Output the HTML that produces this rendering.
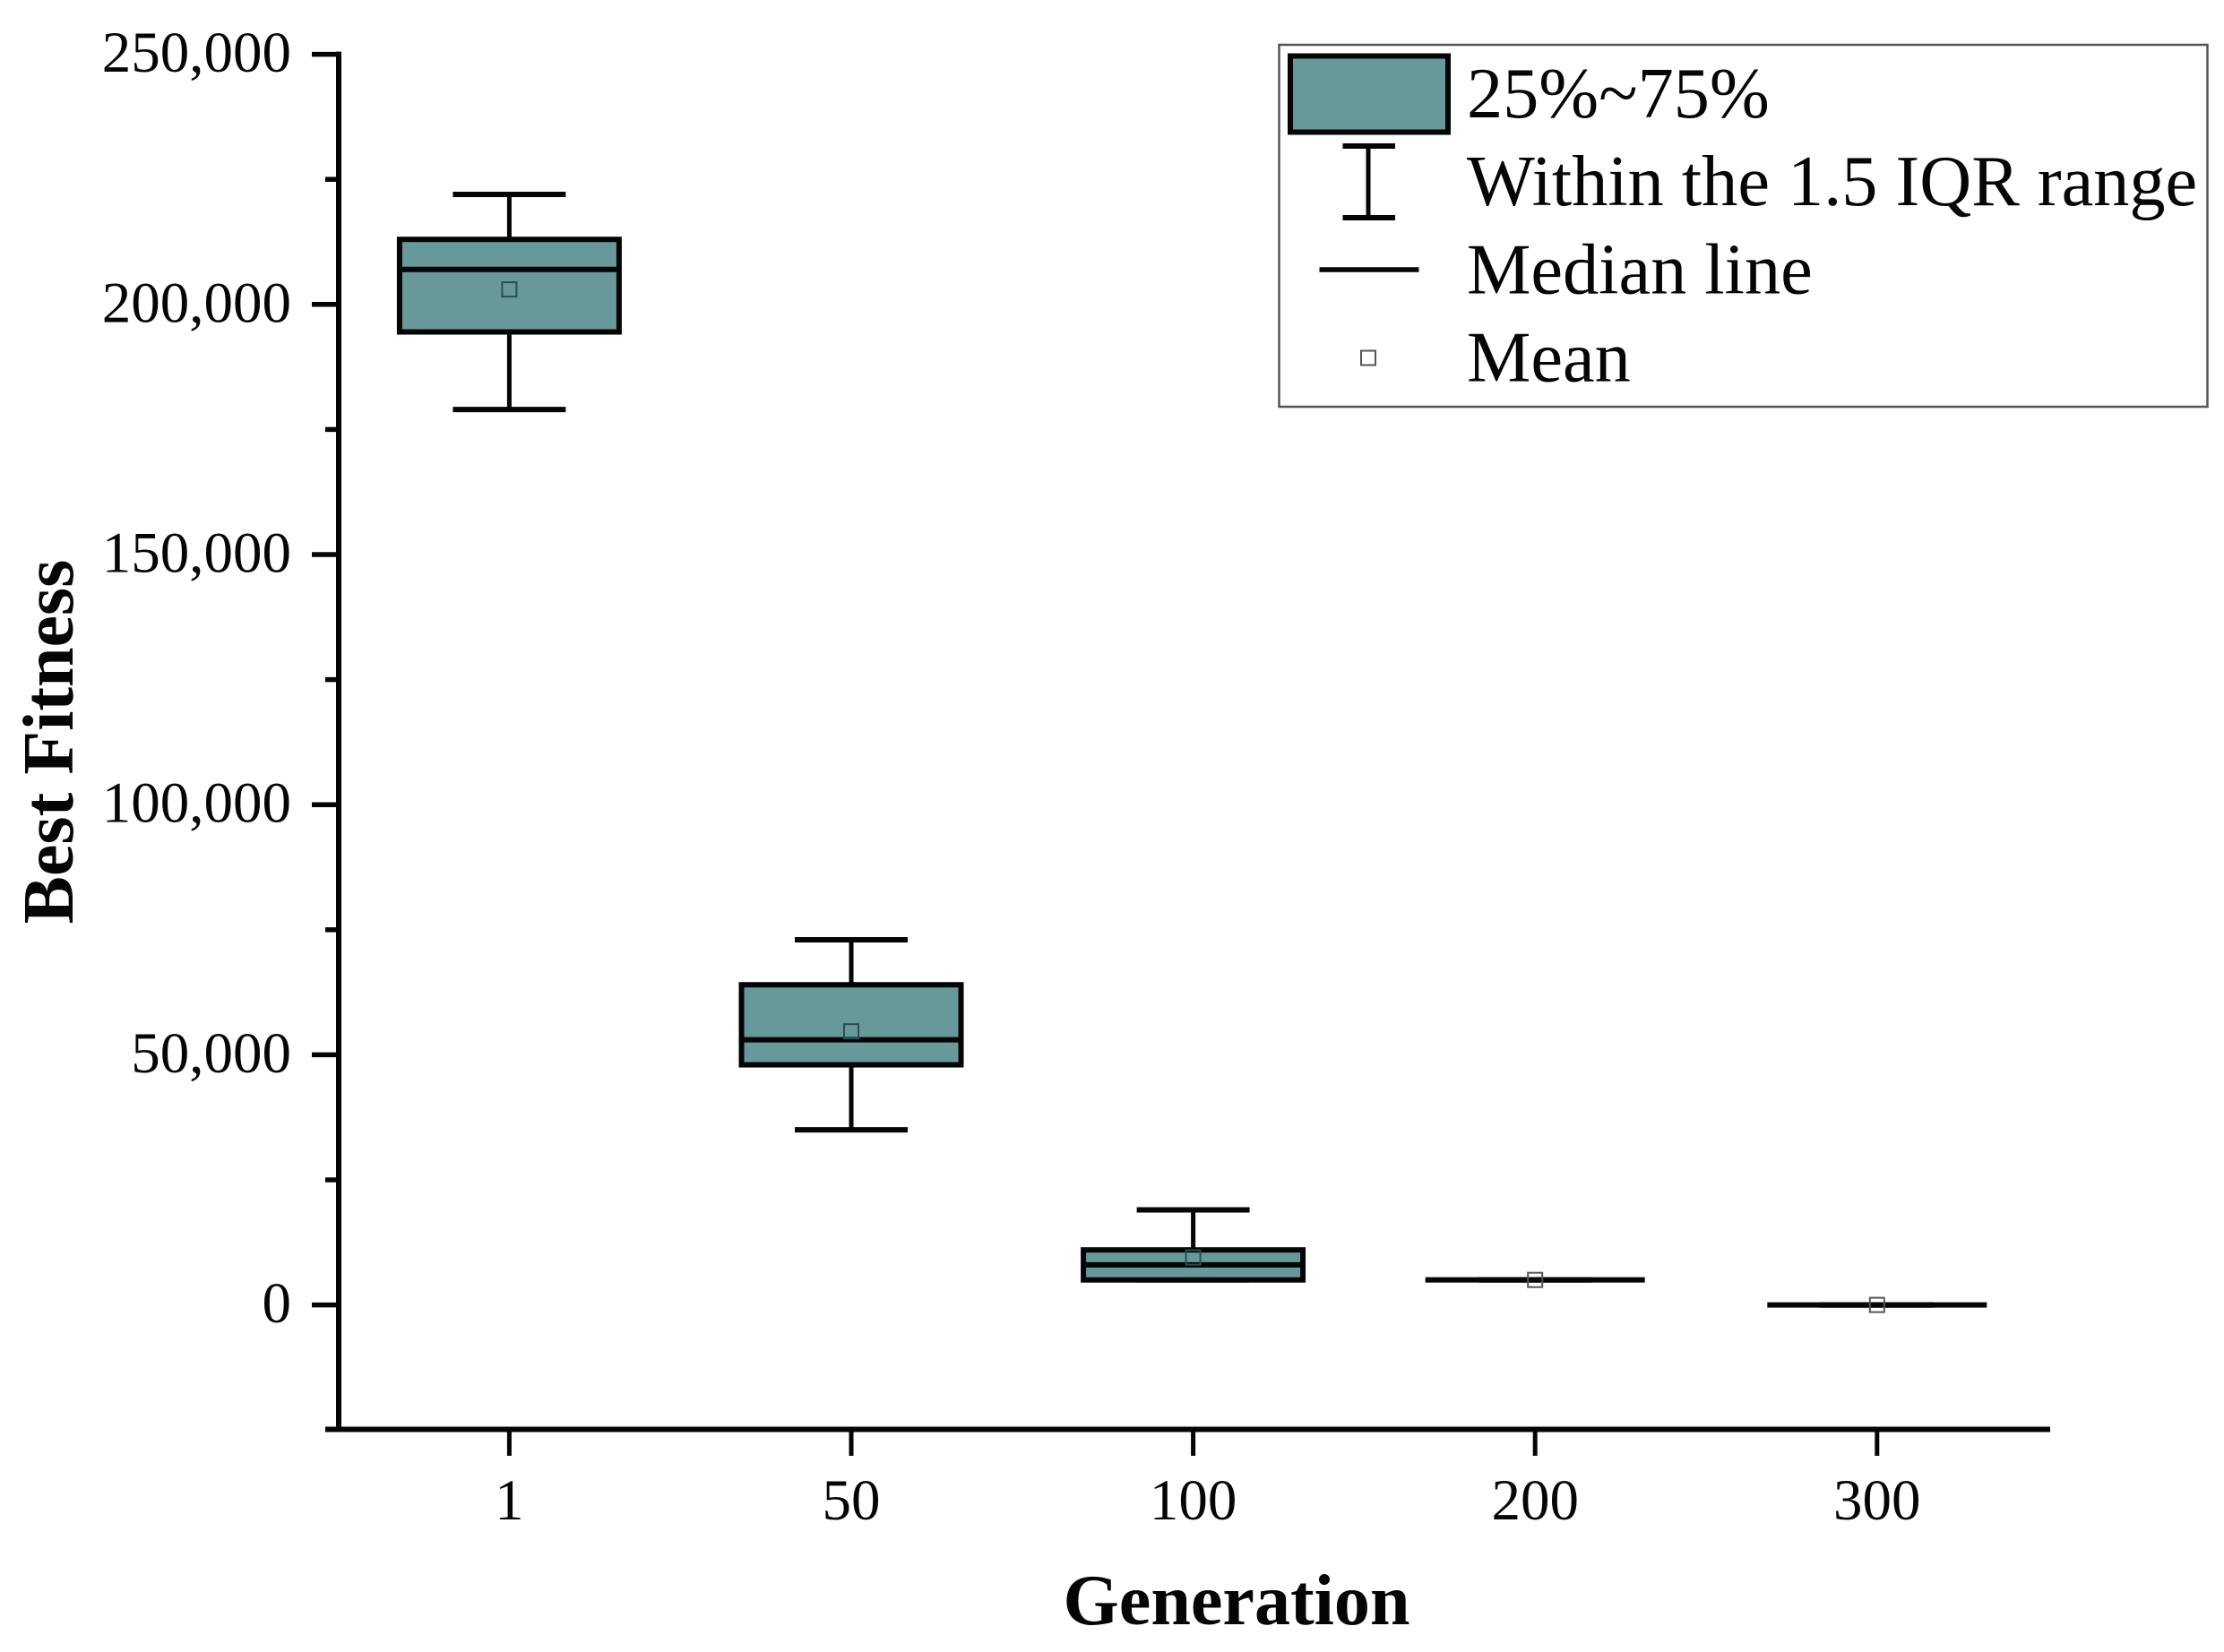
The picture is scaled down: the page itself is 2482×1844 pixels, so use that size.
<!DOCTYPE html>
<html lang="en">
<head>
<meta charset="utf-8">
<title>Best Fitness by Generation</title>
<style>
html,body{margin:0;padding:0;background:#fff;}
svg{display:block;}
text{font-family:"Liberation Serif",serif;fill:#050505;}
</style>
</head>
<body>
<svg id="chart" xmlns="http://www.w3.org/2000/svg" width="2482" height="1844" viewBox="0 0 2482 1844">
  <rect x="0" y="0" width="2482" height="1844" fill="#ffffff"/>
  <g id="axes"></g>
  <g id="marks"></g>
  <text x="1380" y="1813" font-size="80.1" font-weight="700" text-anchor="middle">Generation</text>
  <text transform="translate(81,828) rotate(-90)" font-size="80" font-weight="700" text-anchor="middle">Best Fitness</text>
  <g>
    <rect x="1427.5" y="50" width="1036" height="404" fill="#ffffff" stroke="#555555" stroke-width="2.5"/>
    <rect x="1440" y="62.5" width="176" height="85" fill="#67989a" stroke="#050505" stroke-width="6"/>
    <text x="1637" y="131" font-size="80.3">25%~75%</text>
    <g stroke="#050505" fill="none">
      <line x1="1527" y1="163" x2="1527" y2="243" stroke-width="5"/>
      <line x1="1498.5" y1="163" x2="1557" y2="163" stroke-width="6"/>
      <line x1="1498.5" y1="243" x2="1557" y2="243" stroke-width="6"/>
    </g>
    <text x="1637" y="229" font-size="80.3">Within the 1.5 IQR range</text>
    <line x1="1472.5" y1="301" x2="1583.5" y2="301" stroke="#050505" stroke-width="5.5"/>
    <text x="1637" y="327.5" font-size="80.3">Median line</text>
    <rect x="1519" y="391.5" width="16" height="16" fill="none" stroke="#555555" stroke-width="2"/>
    <text x="1637" y="425.5" font-size="80.3">Mean</text>
  </g>
</svg>
<script>
const categories = ["1", "50", "100", "200", "300"];
const q1Values = [194500, 48000, 5000, 5000, 0];
const q3Values = [213000, 64000, 11000, 5000, 0];
const medianValues = [207000, 53000, 8000, 5000, 0];
const meanValues = [203000, 54700, 9500, 5000, 0];
const whiskerLowValues = [179000, 35000, 5000, 5000, 0];
const whiskerHighValues = [222000, 73000, 19000, 5000, 0];
const majorTicks = [0, 50000, 100000, 150000, 200000, 250000];
const majorTickLabels = ["0", "50,000", "100,000", "150,000", "200,000", "250,000"];
const minorTicks = [25000, 75000, 125000, 175000, 225000];

const NS = "http://www.w3.org/2000/svg";
const axes = document.getElementById("axes");
const marks = document.getElementById("marks");

const plotLeft = 378, plotRight = 2288, plotBottom = 1595.5;
const yPerUnit = 0.005584, yZero = 1456.6;
const firstCategoryX = 568.4, categoryStep = 381.6;
const boxWidth = categoryStep * 0.642, capWidth = categoryStep * 0.33, meanSize = 16;

function xScale(i) { return firstCategoryX + i * categoryStep; }
function yScale(v) { return yZero - v * yPerUnit; }

function line(parent, x1, y1, x2, y2, width, color) {
  const el = document.createElementNS(NS, "line");
  el.setAttribute("x1", x1);
  el.setAttribute("y1", y1);
  el.setAttribute("x2", x2);
  el.setAttribute("y2", y2);
  el.setAttribute("stroke", color || "#050505");
  el.setAttribute("stroke-width", width);
  parent.appendChild(el);
  return el;
}
function label(parent, x, y, size, anchor, str) {
  const el = document.createElementNS(NS, "text");
  el.setAttribute("x", x);
  el.setAttribute("y", y);
  el.setAttribute("font-size", size);
  el.setAttribute("text-anchor", anchor);
  el.textContent = str;
  parent.appendChild(el);
  return el;
}

/* axes */
const yAxisLine = line(axes, plotLeft, yScale(250000) - 3, plotLeft, plotBottom, 6);


const xAxisLine = line(axes, 363, plotBottom, plotRight, plotBottom, 6);



majorTicks.forEach(function (v, i) {
  const tick = line(axes, 348, yScale(v), plotLeft, yScale(v), 5.5);
  
  
  const txt = label(axes, 325, yScale(v) + 19.5, 65, "end", majorTickLabels[i]);
  
  
});
minorTicks.forEach(function (v) {
  const tick = line(axes, 363, yScale(v), plotLeft, yScale(v), 5.5);
  
  
});
categories.forEach(function (c, i) {
  const tick = line(axes, xScale(i), plotBottom, xScale(i), 1625, 5);
  
  
  const txt = label(axes, xScale(i), 1696, 65, "middle", c);
  
  
});

/* box plots */
categories.forEach(function (c, i) {
  const cx = xScale(i);
  const g = document.createElementNS(NS, "g");
  
  
  marks.appendChild(g);

  const stem = line(g, cx, yScale(whiskerHighValues[i]), cx, yScale(whiskerLowValues[i]), 5);
  
  
  const capHigh = line(g, cx - capWidth / 2, yScale(whiskerHighValues[i]), cx + capWidth / 2, yScale(whiskerHighValues[i]), 6);
  
  
  const capLow = line(g, cx - capWidth / 2, yScale(whiskerLowValues[i]), cx + capWidth / 2, yScale(whiskerLowValues[i]), 6);
  
  

  const box = document.createElementNS(NS, "rect");
  box.setAttribute("x", cx - boxWidth / 2);
  box.setAttribute("y", yScale(q3Values[i]));
  box.setAttribute("width", boxWidth);
  box.setAttribute("height", Math.max(0, yScale(q1Values[i]) - yScale(q3Values[i])));
  box.setAttribute("fill", "#67989a");
  box.setAttribute("stroke", "#050505");
  box.setAttribute("stroke-width", 6);
  
  
  g.appendChild(box);

  const median = line(g, cx - boxWidth / 2, yScale(medianValues[i]), cx + boxWidth / 2, yScale(medianValues[i]), 6);
  
  

  const mean = document.createElementNS(NS, "rect");
  mean.setAttribute("x", cx - meanSize / 2);
  mean.setAttribute("y", yScale(meanValues[i]) - meanSize / 2);
  mean.setAttribute("width", meanSize);
  mean.setAttribute("height", meanSize);
  mean.setAttribute("fill", "none");
  mean.setAttribute("stroke", i < 3 ? "#274f52" : "#555555");
  mean.setAttribute("stroke-width", 2);
  
  
  g.appendChild(mean);
});
</script>
</body>
</html>
